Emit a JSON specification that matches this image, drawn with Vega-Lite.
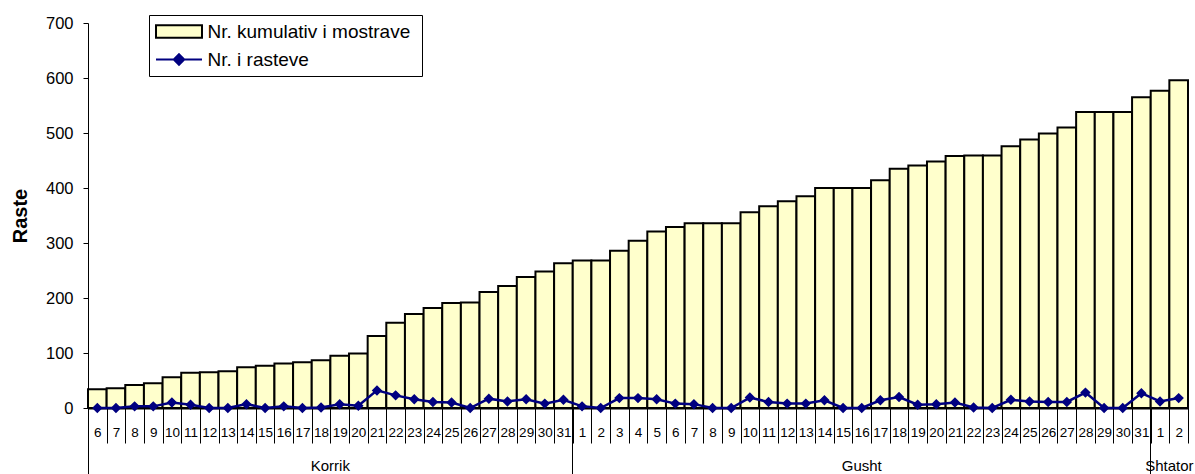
{
  "$schema": "https://vega.github.io/schema/vega-lite/v6.json",
  "width": 1100,
  "height": 385,
  "autosize": {"type": "none"},
  "padding": {"left": 88, "top": 23, "right": 7, "bottom": 66},
  "background": "white",
  "data": {
    "values": [
      {"d": "Korrik 6", "cum": 34, "cases": 0},
      {"d": "Korrik 7", "cum": 36, "cases": 0},
      {"d": "Korrik 8", "cum": 42, "cases": 3},
      {"d": "Korrik 9", "cum": 45, "cases": 3},
      {"d": "Korrik 10", "cum": 56, "cases": 10},
      {"d": "Korrik 11", "cum": 64, "cases": 6},
      {"d": "Korrik 12", "cum": 65, "cases": 0},
      {"d": "Korrik 13", "cum": 67, "cases": 0},
      {"d": "Korrik 14", "cum": 74, "cases": 7},
      {"d": "Korrik 15", "cum": 77, "cases": 0},
      {"d": "Korrik 16", "cum": 81, "cases": 3},
      {"d": "Korrik 17", "cum": 83, "cases": 0},
      {"d": "Korrik 18", "cum": 87, "cases": 1},
      {"d": "Korrik 19", "cum": 95, "cases": 7},
      {"d": "Korrik 20", "cum": 99, "cases": 4},
      {"d": "Korrik 21", "cum": 131, "cases": 32},
      {"d": "Korrik 22", "cum": 155, "cases": 23},
      {"d": "Korrik 23", "cum": 171, "cases": 16},
      {"d": "Korrik 24", "cum": 182, "cases": 11},
      {"d": "Korrik 25", "cum": 191, "cases": 10},
      {"d": "Korrik 26", "cum": 192, "cases": 0},
      {"d": "Korrik 27", "cum": 211, "cases": 17},
      {"d": "Korrik 28", "cum": 222, "cases": 12},
      {"d": "Korrik 29", "cum": 238, "cases": 16},
      {"d": "Korrik 30", "cum": 248, "cases": 8},
      {"d": "Korrik 31", "cum": 263, "cases": 15},
      {"d": "Gusht 1", "cum": 268, "cases": 3},
      {"d": "Gusht 2", "cum": 268, "cases": 0},
      {"d": "Gusht 3", "cum": 286, "cases": 18},
      {"d": "Gusht 4", "cum": 304, "cases": 18},
      {"d": "Gusht 5", "cum": 321, "cases": 16},
      {"d": "Gusht 6", "cum": 329, "cases": 8},
      {"d": "Gusht 7", "cum": 336, "cases": 7},
      {"d": "Gusht 8", "cum": 336, "cases": 0},
      {"d": "Gusht 9", "cum": 336, "cases": 0},
      {"d": "Gusht 10", "cum": 356, "cases": 19},
      {"d": "Gusht 11", "cum": 367, "cases": 11},
      {"d": "Gusht 12", "cum": 376, "cases": 8},
      {"d": "Gusht 13", "cum": 385, "cases": 8},
      {"d": "Gusht 14", "cum": 400, "cases": 14},
      {"d": "Gusht 15", "cum": 400, "cases": 0},
      {"d": "Gusht 16", "cum": 400, "cases": 0},
      {"d": "Gusht 17", "cum": 414, "cases": 14},
      {"d": "Gusht 18", "cum": 435, "cases": 20},
      {"d": "Gusht 19", "cum": 441, "cases": 6},
      {"d": "Gusht 20", "cum": 448, "cases": 7},
      {"d": "Gusht 21", "cum": 458, "cases": 10},
      {"d": "Gusht 22", "cum": 459, "cases": 1},
      {"d": "Gusht 23", "cum": 459, "cases": 0},
      {"d": "Gusht 24", "cum": 476, "cases": 15},
      {"d": "Gusht 25", "cum": 488, "cases": 12},
      {"d": "Gusht 26", "cum": 499, "cases": 11},
      {"d": "Gusht 27", "cum": 510, "cases": 11},
      {"d": "Gusht 28", "cum": 538, "cases": 28},
      {"d": "Gusht 29", "cum": 538, "cases": 0},
      {"d": "Gusht 30", "cum": 538, "cases": 0},
      {"d": "Gusht 31", "cum": 565, "cases": 27},
      {"d": "Shtator 1", "cum": 577, "cases": 12},
      {"d": "Shtator 2", "cum": 596, "cases": 18}
    ]
  },
  "layer": [
    {
      "mark": {"type": "bar", "strokeWidth": 2, "opacity": 1},
      "encoding": {
        "x": {
          "field": "d", "type": "ordinal", "sort": null,
          "scale": {"paddingInner": 0, "paddingOuter": 0},
          "axis": {
            "orient": "bottom", "title": null, "tickBand": "extent", "tickSize": 35,
            "labelExpr": "split(datum.value, ' ')[1]", "labelAngle": 0, "labelPadding": -18,
            "labelFontSize": 13.5, "labelOverlap": false, "labelBound": false,
            "domainWidth": 2, "domainColor": "black", "tickColor": "black", "tickWidth": 1
          }
        },
        "y": {
          "field": "cum", "type": "quantitative", "title": "Raste",
          "scale": {"domain": [0, 700], "nice": false},
          "axis": {"values": [0, 100, 200, 300, 400, 500, 600, 700], "titleFontSize": 20, "titleFontWeight": "bold", "titlePadding": 15}
        },
        "color": {
          "datum": "Nr.  kumulativ i mostrave",
          "scale": {"domain": ["Nr.  kumulativ i mostrave", "Nr. i rasteve"], "range": ["#FFFFCC", "#000080"]},
          "legend": {
            "title": null, "orient": "none", "legendX": 61, "legendY": -8,
            "padding": 6, "strokeColor": "black", "fillColor": "white",
            "labelFontSize": 19, "labelFont": "Liberation Sans", "labelColor": "black", "labelLimit": 400,
            "labelOffset": 18, "symbolOffset": 13.5, "rowPadding": 7, "symbolSize": 361, "symbolStrokeWidth": 2, "symbolOpacity": 1
          }
        },
        "stroke": {
          "datum": "Nr.  kumulativ i mostrave",
          "scale": {"domain": ["Nr.  kumulativ i mostrave", "Nr. i rasteve"], "range": ["#000000", "#000080"]},
          "legend": {"title": null}
        }
      }
    },
    {
      "mark": {"type": "line", "strokeWidth": 2.5},
      "encoding": {
        "x": {
          "field": "d", "type": "ordinal", "sort": null,
          "axis": {
            "orient": "bottom", "title": null, "values": ["Korrik 6", "Gusht 1", "Shtator 1"],
            "bandPosition": 0, "tickSize": 66, "labels": false, "domain": false,
            "tickColor": "black", "tickWidth": 1
          }
        },
        "y": {"field": "cases", "type": "quantitative", "title": "Raste"},
        "stroke": {"datum": "Nr. i rasteve", "legend": {"title": null}}
      }
    },
    {
      "mark": {"type": "point", "filled": true, "size": 361, "opacity": 1},
      "encoding": {
        "x": {
          "field": "d", "type": "ordinal", "sort": null,
          "axis": {
            "orient": "bottom", "title": null, "values": ["Korrik 18", "Gusht 16", "Shtator 1"],
            "ticks": false, "domain": false, "labelPadding": 50,
            "labelFontSize": 15, "labelAngle": 0, "labelOverlap": false, "labelBound": false,
            "labelExpr": "split(datum.value, ' ')[0]",
            "labelOffset": {"condition": {"test": "datum.value === 'Gusht 16'", "value": 0}, "value": 9.3}
          }
        },
        "y": {"field": "cases", "type": "quantitative", "title": "Raste"},
        "color": {"datum": "Nr. i rasteve", "legend": {"title": null}},
        "shape": {
          "datum": "Nr. i rasteve",
          "scale": {
            "domain": ["Nr.  kumulativ i mostrave", "Nr. i rasteve"],
            "range": ["M-2.42,-0.65H2.42V0.65H-2.42Z", "M-2.42,0H2.42M0,-0.55L0.55,0L0,0.55L-0.55,0Z"]
          },
          "legend": {"title": null}
        }
      }
    }
  ],
  "resolve": {"axis": {"x": "independent"}},
  "config": {
    "view": {"stroke": null},
    "font": "Liberation Sans",
    "axis": {"grid": false, "labelColor": "black", "labelFont": "Liberation Sans", "titleColor": "black", "titleFont": "Liberation Sans"},
    "axisY": {
      "labelFontSize": 16.5, "tickSize": 5, "labelPadding": 10, "tickColor": "black",
      "domainColor": "black", "domainWidth": 1
    }
  }
}
